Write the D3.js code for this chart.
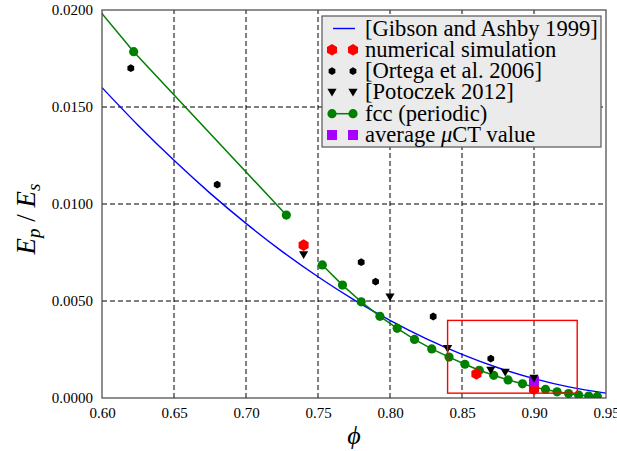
<!DOCTYPE html>
<html>
<head>
<meta charset="utf-8">
<script src="https://cdn.jsdelivr.net/npm/d3@7"></script>
<style>
  html, body { margin: 0; padding: 0; background: #fff; }
  svg { display: block; }
  text { font-family: "Liberation Serif", "Times New Roman", serif; }
</style>
</head>
<body>
<svg id="chart" width="617" height="451"></svg>
<script>
// Axis ticks
const xTicks = [0.60, 0.65, 0.70, 0.75, 0.80, 0.85, 0.90, 0.95];
const yTicks = [0.0000, 0.0050, 0.0100, 0.0150, 0.0200];

// Gibson and Ashby (1999) scaling curve
const gibsonPhi = [0.600, 0.625, 0.650, 0.675, 0.700, 0.725, 0.750, 0.775, 0.800, 0.825, 0.850, 0.875, 0.900, 0.925, 0.950];
const gibsonE   = [0.01600, 0.01406, 0.01225, 0.01056, 0.00900, 0.00756, 0.00625, 0.00506, 0.00400, 0.00306, 0.00225, 0.00156, 0.00100, 0.00056, 0.00025];

// Numerical simulation
const simPhi = [0.740, 0.860, 0.900];
const simE   = [0.00788, 0.00124, 0.00045];

// Ortega et al. (2006)
const ortegaPhi = [0.620, 0.680, 0.780, 0.790, 0.830, 0.870];
const ortegaE   = [0.01700, 0.01100, 0.00700, 0.00600, 0.00420, 0.00203];

// Potoczek (2012)
const potoczekPhi = [0.740, 0.800, 0.840, 0.870, 0.880, 0.900];
const potoczekE   = [0.00738, 0.00520, 0.00254, 0.00142, 0.00132, 0.00101];

// fcc (periodic), low-porosity branch
const fccPhiA = [0.580, 0.622, 0.728];
const fccEA   = [0.02160, 0.01785, 0.00943];
// fcc (periodic), high-porosity branch
const fccPhiB = [0.753, 0.767, 0.780, 0.793, 0.805, 0.817, 0.829, 0.841, 0.852, 0.862, 0.872, 0.882, 0.892, 0.900, 0.908, 0.916, 0.924, 0.931, 0.938, 0.944];
const fccEB   = [0.00686, 0.00582, 0.00496, 0.00421, 0.00359, 0.00302, 0.00253, 0.00211, 0.00174, 0.00143, 0.00117, 0.00093, 0.00073, 0.00056, 0.00044, 0.00032, 0.00023, 0.00015, 0.00010, 0.00008];

// Average micro-CT value
const ctPhi = [0.900];
const ctE   = [0.00086];

// Highlighted zoom window [phi0, phi1] x [E0, E1]
const zoomPhi = [0.84, 0.93];
const zoomE   = [0.00025, 0.0040];

const legendLabels = ["[Gibson and Ashby 1999]", "numerical simulation", "[Ortega et al. 2006]", "[Potoczek 2012]", "fcc (periodic)", "average \u03bcCT value"];

const zip = (a, b) => a.map((v, i) => [v, b[i]]);

const W = 617, H = 451;
const margin = {left: 102, top: 10, right: 11, bottom: 53};
const svg = d3.select("#chart");

const x = d3.scaleLinear().domain([0.60, 0.95]).range([margin.left, W - margin.right]);
const y = d3.scaleLinear().domain([0, 0.02]).range([H - margin.bottom, margin.top]);

const FRAME = "#444";
const BLUE = "#0000ff", GREEN = "#008000", RED = "#ff0000", PURPLE = "#a800ff";
const SERIF = "'Liberation Serif', 'Times New Roman', serif";

svg.append("defs").append("clipPath").attr("id", "plotclip")
  .append("rect")
  .attr("x", x.range()[0]).attr("y", y.range()[1])
  .attr("width", x.range()[1] - x.range()[0])
  .attr("height", y.range()[0] - y.range()[1]);

// Grid
const grid = svg.append("g");
grid.selectAll("line.gx").data(xTicks.slice(1, -1)).join("line")
  .attr("x1", d => x(d)).attr("x2", d => x(d))
  .attr("y1", y.range()[0]).attr("y2", y.range()[1])
  .attr("stroke", "#000").attr("stroke-width", 1).attr("stroke-dasharray", "5,3");
grid.selectAll("line.gy").data(yTicks.slice(1, -1)).join("line")
  .attr("y1", d => y(d)).attr("y2", d => y(d))
  .attr("x1", x.range()[0]).attr("x2", x.range()[1])
  .attr("stroke", "#000").attr("stroke-width", 1).attr("stroke-dasharray", "5,3");

const plot = svg.append("g").attr("clip-path", "url(#plotclip)");

// Marker shapes
function hexPath(r) {
  const pts = d3.range(6).map(k => {
    const a = -Math.PI / 2 + k * Math.PI / 3;
    return [r * Math.cos(a), r * Math.sin(a)];
  });
  return "M" + pts.map(p => p.join(",")).join("L") + "Z";
}
function triDownPath(s) {
  return `M${-s},${-s * 0.8}L${s},${-s * 0.8}L0,${s * 0.9}Z`;
}

// Gibson and Ashby curve
const line = d3.line().x(d => x(d[0])).y(d => y(d[1]));
plot.append("path").datum(zip(gibsonPhi, gibsonE))
  .attr("d", line.curve(d3.curveMonotoneX))
  .attr("fill", "none").attr("stroke", BLUE).attr("stroke-width", 1.4);

// fcc branches
const straight = d3.line().x(d => x(d[0])).y(d => y(d[1]));
[zip(fccPhiA, fccEA), zip(fccPhiB, fccEB)].forEach(branch => {
  plot.append("path").datum(branch).attr("d", straight)
    .attr("fill", "none").attr("stroke", GREEN).attr("stroke-width", 1.5);
  plot.selectAll(null).data(branch).join("circle")
    .attr("cx", d => x(d[0])).attr("cy", d => y(d[1])).attr("r", 4.6)
    .attr("fill", GREEN);
});

// Numerical simulation
plot.selectAll(null).data(zip(simPhi, simE)).join("path")
  .attr("d", hexPath(5.8))
  .attr("transform", d => `translate(${x(d[0])},${y(d[1])})`)
  .attr("fill", RED);

// Ortega et al.
plot.selectAll(null).data(zip(ortegaPhi, ortegaE)).join("path")
  .attr("d", hexPath(3.9))
  .attr("transform", d => `translate(${x(d[0])},${y(d[1])})`)
  .attr("fill", "#000");

// Average micro-CT
plot.selectAll(null).data(zip(ctPhi, ctE)).join("rect")
  .attr("x", d => x(d[0]) - 5).attr("y", d => y(d[1]) - 5)
  .attr("width", 10).attr("height", 10).attr("fill", PURPLE);

// Potoczek
plot.selectAll(null).data(zip(potoczekPhi, potoczekE)).join("path")
  .attr("d", triDownPath(4.6))
  .attr("transform", d => `translate(${x(d[0])},${y(d[1])})`)
  .attr("fill", "#000");

// Zoom window
plot.append("rect")
  .attr("x", x(zoomPhi[0])).attr("y", y(zoomE[1]))
  .attr("width", x(zoomPhi[1]) - x(zoomPhi[0]))
  .attr("height", y(zoomE[0]) - y(zoomE[1]))
  .attr("fill", "none").attr("stroke", RED).attr("stroke-width", 1.4);

// Frame
svg.append("rect")
  .attr("x", x.range()[0]).attr("y", y.range()[1])
  .attr("width", x.range()[1] - x.range()[0])
  .attr("height", y.range()[0] - y.range()[1])
  .attr("fill", "none").attr("stroke", FRAME).attr("stroke-width", 1.2);

// Axes
const xAxis = svg.append("g").attr("transform", `translate(0,${y.range()[0]})`)
  .call(d3.axisBottom(x).tickValues(xTicks).tickFormat(d3.format(".2f")).tickSize(0).tickPadding(9));
const yAxis = svg.append("g").attr("transform", `translate(${x.range()[0]},0)`)
  .call(d3.axisLeft(y).tickValues(yTicks).tickFormat(d3.format(".4f")).tickSize(0).tickPadding(9));
[xAxis, yAxis].forEach(g => {
  g.attr("font-family", SERIF);
  g.select(".domain").remove();
  g.selectAll("text").attr("font-family", SERIF).attr("font-size", 15).attr("fill", "#000");
});

// Axis titles
svg.append("text")
  .attr("x", (x.range()[0] + x.range()[1]) / 2).attr("y", 444)
  .attr("text-anchor", "middle").attr("font-size", 26).attr("font-style", "italic")
  .text("\u03d5");

const yl = svg.append("text")
  .attr("transform", `translate(35,219) rotate(-90)`)
  .attr("text-anchor", "middle").attr("font-size", 27).attr("font-style", "italic");
yl.append("tspan").text("E");
yl.append("tspan").attr("font-size", 19).attr("dy", 5).text("p");
yl.append("tspan").attr("dy", -5).attr("font-style", "normal").text(" / ");
yl.append("tspan").text("E");
yl.append("tspan").attr("font-size", 19).attr("dy", 5).text("s");

// Legend
const lg = svg.append("g");
lg.append("rect").attr("x", 322).attr("y", 16).attr("width", 279).attr("height", 131)
  .attr("fill", "#ebebeb").attr("stroke", "#555").attr("stroke-width", 1.2);
const rowY = i => 28.5 + i * 21.3;
const mx = [332, 353];
legendLabels.forEach((lab, i) => {
  const t = lg.append("text").attr("x", 365).attr("y", rowY(i) + 7).attr("font-size", 22.6);
  if (i === 5) {
    t.append("tspan").text("average ");
    t.append("tspan").attr("font-style", "italic").text("\u03bc");
    t.append("tspan").text("CT value");
  } else {
    t.text(lab);
  }
});
// Legend handles
lg.append("line").attr("x1", 333).attr("x2", 355).attr("y1", rowY(0)).attr("y2", rowY(0))
  .attr("stroke", BLUE).attr("stroke-width", 1.4);
mx.forEach(cx => {
  lg.append("path").attr("d", hexPath(5.8)).attr("transform", `translate(${cx},${rowY(1)})`).attr("fill", RED);
  lg.append("path").attr("d", hexPath(3.9)).attr("transform", `translate(${cx},${rowY(2)})`).attr("fill", "#000");
  lg.append("path").attr("d", triDownPath(4.6)).attr("transform", `translate(${cx},${rowY(3)})`).attr("fill", "#000");
  lg.append("rect").attr("x", cx - 5).attr("y", rowY(5) - 5).attr("width", 10).attr("height", 10).attr("fill", PURPLE);
});
lg.append("line").attr("x1", mx[0]).attr("x2", mx[1]).attr("y1", rowY(4)).attr("y2", rowY(4))
  .attr("stroke", GREEN).attr("stroke-width", 1.5);
mx.forEach(cx => lg.append("circle").attr("cx", cx).attr("cy", rowY(4)).attr("r", 4.6).attr("fill", GREEN));
</script>
</body>
</html>
